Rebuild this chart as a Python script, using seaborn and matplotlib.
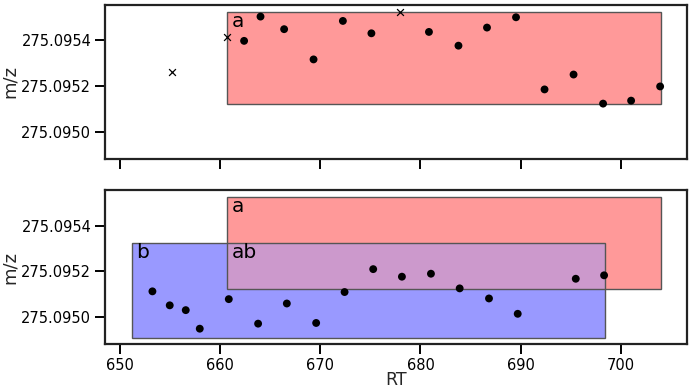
import pandas as pd
import seaborn as sns
import matplotlib.pyplot as plt
from matplotlib.patches import Rectangle

# Top panel: features inside region a (circles) and excluded ones (crosses)
top_rt = [662.38, 664.02, 666.38, 669.32, 672.25, 675.1, 680.85, 683.8, 686.65,
          689.55, 692.4, 695.3, 698.25, 701.05, 703.95]
top_mz = [275.095397, 275.095503, 275.095448, 275.095316, 275.095484, 275.095430,
          275.095436, 275.095376, 275.095455, 275.095500, 275.095185, 275.095250,
          275.095123, 275.095136, 275.095198]
cross_rt = [655.2, 660.65, 678.0]
cross_mz = [275.095262, 275.095416, 275.095525]

# Bottom panel points
bot_rt = [653.22, 654.95, 656.55, 657.95, 660.85, 663.78, 666.65, 669.58, 672.42,
          675.28, 678.15, 681.05, 683.92, 686.85, 689.72, 695.52, 698.35]
bot_mz = [275.095113, 275.095052, 275.095031, 275.094950, 275.095079, 275.094972,
          275.095060, 275.094975, 275.095110, 275.095210, 275.095177, 275.095190,
          275.095126, 275.095082, 275.095015, 275.095168, 275.095183]

# Regions (rt_min, rt_max, mz_min, mz_max)
region_a = [660.65, 704.0, 275.095122, 275.095523]
region_b = [651.15, 698.4, 275.094910, 275.095325]
region_ab = [max(region_a[0], region_b[0]), min(region_a[1], region_b[1]),
             max(region_a[2], region_b[2]), min(region_a[3], region_b[3])]

sns.set_theme(style="ticks")
plt.rcParams["font.family"] = ["DejaVu Sans"]

fig, (ax1, ax2) = plt.subplots(2, 1, figsize=(6.92, 3.89), dpi=100, sharex=True, sharey=True)
fig.subplots_adjust(left=0.152, right=0.993, top=0.988, bottom=0.115, hspace=0.203)


def box(ax, r, fc, ec="none", lw=0):
    ax.add_patch(Rectangle((r[0], r[2]), r[1] - r[0], r[3] - r[2],
                           facecolor=fc, edgecolor=ec, lw=lw, zorder=1))


def label(ax, x, y, s):
    ax.text(x + 0.45, y, s, ha="left", va="top", fontsize=14.5, color="black", zorder=2)


# top panel
box(ax1, region_a, "#ff9999")
box(ax1, region_a, "none", "#555555", 1)
label(ax1, region_a[0], region_a[3], "a")

# bottom panel
box(ax2, region_a, "#ff9999")
box(ax2, region_b, "#9999ff")
box(ax2, region_ab, "#cc99cc")
box(ax2, region_a, "none", "#555555", 1)
box(ax2, region_b, "none", "#555555", 1)
label(ax2, region_a[0], region_a[3], "a")
label(ax2, region_b[0], region_b[3], "b")
label(ax2, region_ab[0], region_ab[3], "ab")

df_top = pd.DataFrame({"RT": top_rt, "m/z": top_mz})
df_cross = pd.DataFrame({"RT": cross_rt, "m/z": cross_mz})
df_bot = pd.DataFrame({"RT": bot_rt, "m/z": bot_mz})

sns.scatterplot(data=df_top, x="RT", y="m/z", ax=ax1, color="black", s=32, edgecolor="none", zorder=3)
sns.scatterplot(data=df_cross, x="RT", y="m/z", ax=ax1, color="black", marker="x", s=24,
                linewidth=0.9, zorder=3)
sns.scatterplot(data=df_bot, x="RT", y="m/z", ax=ax2, color="black", s=32, edgecolor="none", zorder=3)

ax1.set_xlim(648.5, 706.65)
ax1.set_ylim(275.094882, 275.095555)
ax1.set_yticks([275.0950, 275.0952, 275.0954])
ax1.set_xticks([650, 660, 670, 680, 690, 700])
ax1.yaxis.set_major_formatter(plt.FormatStrFormatter("%.4f"))

for ax in (ax1, ax2):
    ax.tick_params(length=7, width=1.4, labelsize=10.5, colors="black", pad=3)
    for sp in ax.spines.values():
        sp.set_linewidth(1.6)
        sp.set_color("#222222")
    ax.set_ylabel("m/z", fontsize=13, labelpad=2)
ax1.set_xlabel("")
ax1.tick_params(labelbottom=False)
ax2.set_xlabel("RT", fontsize=12.5, labelpad=-1.5)

plt.savefig("out.png", dpi=100)
